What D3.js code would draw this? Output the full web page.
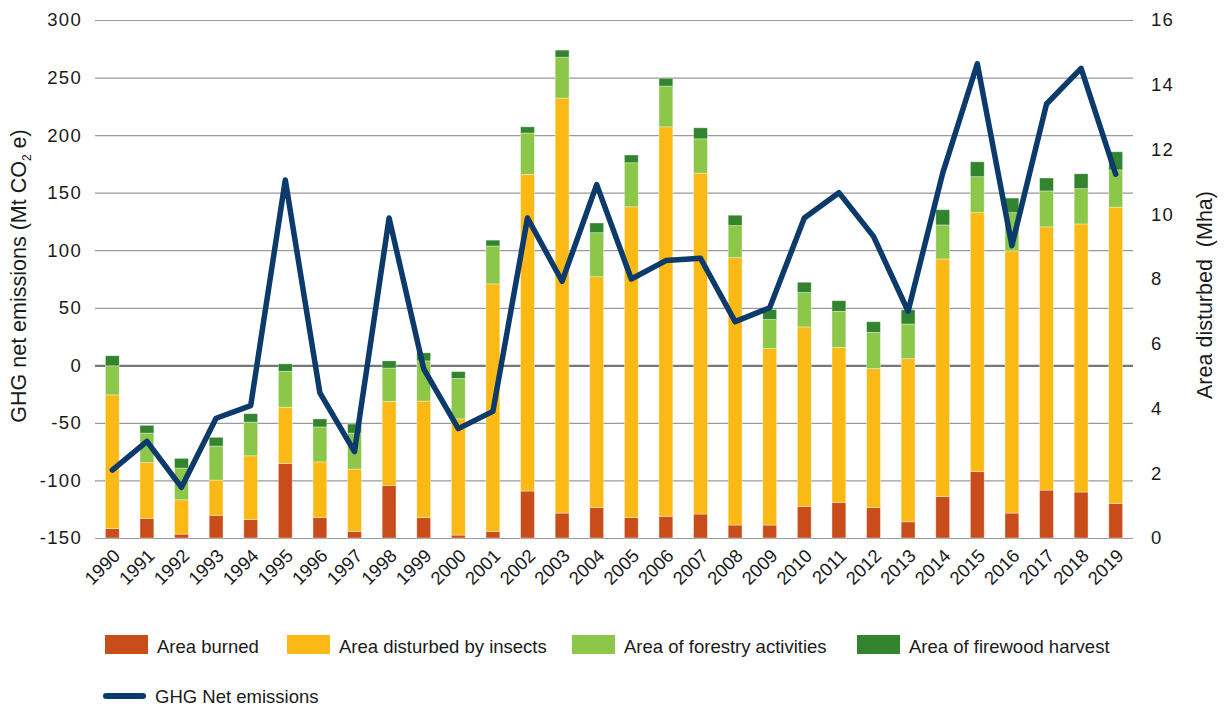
<!DOCTYPE html>
<html>
<head>
<meta charset="utf-8">
<script src="https://cdn.jsdelivr.net/npm/d3@7"></script>
<style>
  html, body { margin: 0; padding: 0; background: #fff; }
  svg { display: block; font-family: "Liberation Sans", Arial, Helvetica, sans-serif; }
</style>
</head>
<body>
<svg id="chart" width="1225" height="711"></svg>
<script>
const years = ["1990","1991","1992","1993","1994","1995","1996","1997","1998","1999",
               "2000","2001","2002","2003","2004","2005","2006","2007","2008","2009",
               "2010","2011","2012","2013","2014","2015","2016","2017","2018","2019"];
// Area disturbed (Mha), stacked segments
const areaBurned   = [0.29,0.60,0.12,0.70,0.57,2.30,0.63,0.20,1.62,0.63,0.09,0.20,1.45,0.77,0.94,0.63,0.67,0.74,0.40,0.40,0.97,1.10,0.94,0.50,1.28,2.05,0.77,1.48,1.42,1.07];
const areaInsects  = [4.13,1.73,1.06,1.09,1.97,1.74,1.72,1.93,2.60,3.60,3.59,7.65,9.78,12.82,7.13,9.60,12.03,10.53,8.26,5.45,5.55,4.79,4.29,5.04,7.34,8.00,8.10,8.13,8.28,9.15];
const areaForestry = [0.90,0.91,0.98,1.05,1.04,1.11,1.08,1.11,1.03,1.24,1.25,1.17,1.28,1.26,1.36,1.36,1.26,1.06,0.99,0.90,1.06,1.11,1.12,1.07,1.05,1.11,1.18,1.11,1.09,1.15];
const areaFirewood = [0.31,0.24,0.30,0.27,0.26,0.23,0.25,0.28,0.22,0.25,0.21,0.18,0.19,0.22,0.30,0.24,0.24,0.34,0.32,0.31,0.32,0.33,0.33,0.44,0.47,0.46,0.45,0.40,0.46,0.56];
// GHG net emissions (Mt CO2e)
const ghgNet = [-91,-66,-106,-46,-35,161,-24,-75,128,-3,-55,-40,128,73,157,75,91,93,38,50,128,150,112,47,167,262,104,227,258,166];

const leftTicks  = [-150,-100,-50,0,50,100,150,200,250,300];
const rightTicks = [0,2,4,6,8,10,12,14,16];

const seriesNames  = ["Area burned","Area disturbed by insects","Area of forestry activities","Area of firewood harvest"];
const seriesColors = ["#c84d1b","#fbb916","#8cc74a","#33842f"];
const lineName = "GHG Net emissions";
const lineColor = "#0b3a6b";

const svg = d3.select("#chart");
const plot = {left: 95, right: 1133, top: 20, bottom: 538};

const x = d3.scaleBand().domain(years).range([plot.left, plot.right]).paddingInner(0.6).paddingOuter(0.3);
const yL = d3.scaleLinear().domain([-150, 300]).range([plot.bottom, plot.top]);
const yR = d3.scaleLinear().domain([0, 16]).range([plot.bottom, plot.top]);
const plainFmt = d => String(d);

// gridlines
const grid = svg.append("g").attr("transform", `translate(${plot.left},0)`)
  .call(d3.axisLeft(yL).tickValues(leftTicks).tickSize(-(plot.right - plot.left)).tickFormat(""));
grid.select(".domain").remove();
grid.selectAll(".tick line").attr("stroke", "#9a9a9a").attr("stroke-width", 1.2)
  .filter(d => d === 0).attr("stroke", "#777").attr("stroke-width", 2.2);

// left tick labels
const la = svg.append("g").attr("transform", `translate(82,0)`)
  .call(d3.axisLeft(yL).tickValues(leftTicks).tickFormat(plainFmt).tickSize(0).tickPadding(0));
la.select(".domain").remove();
la.selectAll("text").attr("font-size", 18.5).attr("fill", "#1a1a1a").attr("letter-spacing", "1.3px")
  .attr("font-family", "Liberation Sans, Arial, sans-serif");

// right tick labels
const ra = svg.append("g").attr("transform", `translate(1151,0)`)
  .call(d3.axisRight(yR).tickValues(rightTicks).tickFormat(plainFmt).tickSize(0).tickPadding(0));
ra.select(".domain").remove();
ra.selectAll("text").attr("font-size", 18.5).attr("fill", "#1a1a1a").attr("letter-spacing", "1.3px")
  .attr("font-family", "Liberation Sans, Arial, sans-serif");

// stacked bars
const table = years.map((yr, i) => ({year: yr, s0: areaBurned[i], s1: areaInsects[i], s2: areaForestry[i], s3: areaFirewood[i]}));
const stack = d3.stack().keys(["s0","s1","s2","s3"])(table);
svg.append("g").selectAll("g").data(stack).join("g")
  .attr("fill", (d, i) => seriesColors[i])
  .selectAll("rect").data(d => d).join("rect")
  .attr("x", d => x(d.data.year))
  .attr("width", x.bandwidth())
  .attr("y", d => yR(d[1]))
  .attr("height", d => yR(d[0]) - yR(d[1]))
  .attr("stroke", "rgba(255,255,255,0.45)")
  .attr("stroke-width", 0.8);

// line
const line = d3.line().x((d, i) => x(years[i]) + x.bandwidth() / 2).y(d => yL(d));
svg.append("path").datum(ghgNet).attr("d", line)
  .attr("fill", "none").attr("stroke", lineColor).attr("stroke-width", 5.5)
  .attr("stroke-linejoin", "round").attr("stroke-linecap", "round");

// x labels
const xa = svg.append("g").attr("transform", `translate(0,${plot.bottom})`)
  .call(d3.axisBottom(x).tickSize(0).tickPadding(0));
xa.select(".domain").remove();
xa.selectAll("text")
  .attr("font-size", 18.5).attr("fill", "#1a1a1a")
  .attr("font-family", "Liberation Sans, Arial, sans-serif")
  .attr("text-anchor", "end")
  .attr("dy", null)
  .attr("transform", "translate(9,19) rotate(-45)");

// axis titles
const lt = svg.append("text").attr("transform", "translate(26,276) rotate(-90)")
  .attr("text-anchor", "middle").attr("font-size", 21.5).attr("fill", "#1a1a1a");
lt.append("tspan").text("GHG net emissions (Mt CO");
lt.append("tspan").attr("font-size", 12).attr("dy", 5).text("2");
lt.append("tspan").attr("dy", -5).text(" e)");

svg.append("text").attr("transform", "translate(1212,295) rotate(-90)")
  .attr("text-anchor", "middle").attr("font-size", 21.5).attr("fill", "#1a1a1a")
  .attr("xml:space", "preserve").style("white-space", "pre")
  .text("Area disturbed  (Mha)");

// legend
const legX = [105, 287, 572, 857];
const leg = svg.append("g");
seriesNames.forEach((name, i) => {
  leg.append("rect").attr("x", legX[i]).attr("y", 635).attr("width", 43).attr("height", 19).attr("fill", seriesColors[i]);
  leg.append("text").attr("x", legX[i] + 52).attr("y", 653).attr("font-size", 18.5).attr("fill", "#1a1a1a").text(name);
});
leg.append("line").attr("x1", 106).attr("x2", 143).attr("y1", 696).attr("y2", 696)
  .attr("stroke", lineColor).attr("stroke-width", 6).attr("stroke-linecap", "round");
leg.append("text").attr("x", 155).attr("y", 703).attr("font-size", 18.5).attr("fill", "#1a1a1a").text(lineName);
</script>
</body>
</html>
